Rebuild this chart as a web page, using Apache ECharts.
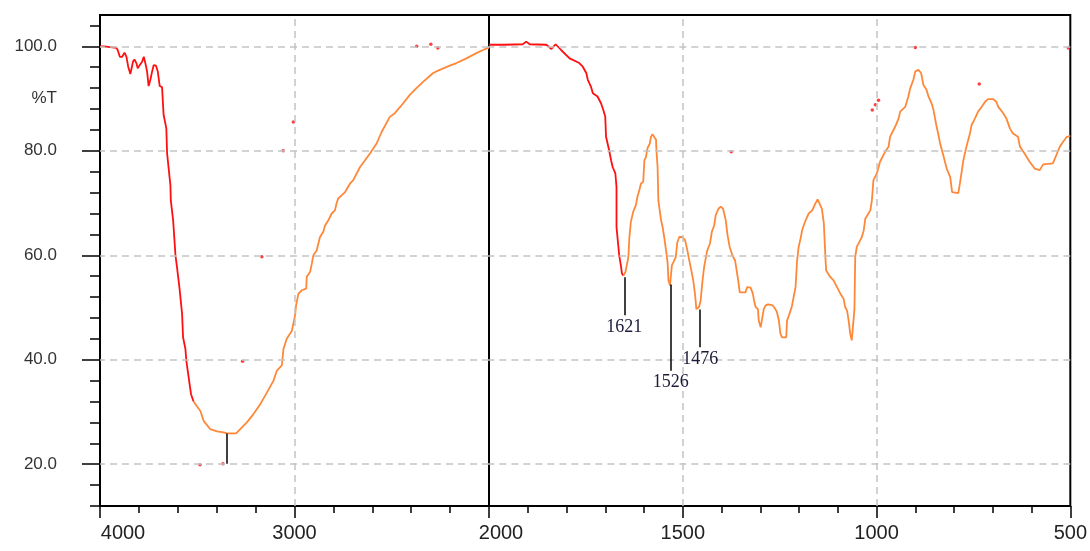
<!DOCTYPE html>
<html>
<head>
<meta charset="utf-8">
<script src="https://cdn.jsdelivr.net/npm/echarts@6/dist/echarts.min.js"></script>
<style>
  html, body { margin: 0; padding: 0; background: #fff; }
  #chart { width: 1090px; height: 551px; }
</style>
</head>
<body>
<div id="chart"></div>
<script>
// IR spectrum, [wavenumber cm-1, %T]; the axis is expanded 2x below 2000
const highRed = [[4000,100.0],[3980,100.0],[3915,99.7],[3909,99.3],[3898,98.0],[3886,98.0],[3874,98.8],[3864,98.0],[3855,96.1],[3844,94.7],[3835,94.5],[3830,97.1],[3823,97.5],[3813,96.8],[3806,95.8],[3796,96.4],[3783,97.1],[3775,98.0],[3767,96.8],[3758,95.2],[3750,92.4],[3741,93.6],[3732,95.2],[3724,96.4],[3712,96.3],[3703,95.2],[3693,92.4],[3681,92.2],[3673,86.9],[3659,84.3],[3655,79.5],[3638,73.4],[3636,70.5],[3624,66.7],[3612,60.0],[3604,57.7],[3591,53.6],[3578,48.8],[3573,44.3],[3561,42.1],[3556,39.8],[3544,36.6],[3532,33.4],[3519,32.0]]
const highOrange = [[3519,32.0],[3500,31.0],[3484,30.2],[3467,28.3],[3433,26.7],[3399,26.3],[3365,26.1],[3347,25.9],[3300,25.9],[3279,26.7],[3245,28.0],[3211,29.6],[3176,31.5],[3142,33.7],[3108,36.0],[3091,37.9],[3065,38.9],[3057,42.0],[3040,44.0],[3014,45.5],[3006,46.9],[2997,48.5],[2992,50.4],[2980,52.6],[2963,53.3],[2940,53.6],[2937,55.9],[2920,56.8],[2911,58.4],[2903,60.0],[2886,60.9],[2869,63.5],[2852,64.5],[2843,65.7],[2826,66.7],[2809,68.0],[2792,68.6],[2784,69.9],[2775,70.9],[2757,71.5],[2740,72.1],[2715,73.7],[2698,74.4],[2663,76.9],[2612,79.5],[2578,81.4],[2552,83.6],[2510,86.5],[2484,87.2],[2441,89.1],[2407,90.7],[2373,92.0],[2339,93.2],[2287,94.9],[2253,95.5],[2202,96.3],[2167,96.8],[2116,97.7],[2065,98.7],[2031,99.3],[2006,99.7],[2000,99.6]]
const lowRed = [[2000,100.3],[1960,100.3],[1913,100.4],[1904,100.9],[1895,100.4],[1852,100.3],[1839,99.5],[1828,100.4],[1814,99.3],[1792,97.7],[1767,96.8],[1758,96.1],[1749,94.9],[1745,93.6],[1737,92.3],[1732,91.0],[1720,90.4],[1711,89.1],[1705,87.8],[1700,86.5],[1698,82.7],[1690,80.1],[1685,78.2],[1681,76.9],[1674,75.7],[1671,73.1],[1671,65.4],[1666,65.4],[1664,60.0],[1659,57.7],[1657,56.5],[1653,56.1]]
const lowOrange = [[1653,56.1],[1648,56.8],[1642,59.0],[1640,60.0],[1638,63.2],[1634,66.4],[1630,66.1],[1628,68.3],[1621,69.6],[1617,71.2],[1612,72.5],[1608,73.7],[1602,74.1],[1599,78.2],[1595,78.8],[1591,80.5],[1585,81.4],[1582,82.7],[1578,83.2],[1574,82.7],[1569,82.1],[1568,80.1],[1565,76.9],[1563,70.5],[1556,66.7],[1552,65.4],[1548,63.5],[1542,60.3],[1539,58.4],[1537,55.2],[1533,54.2],[1528,58.1],[1524,58.7],[1518,59.7],[1514,62.5],[1509,63.5],[1501,63.5],[1494,62.9],[1488,60.9],[1484,59.3],[1478,57.1],[1473,55.2],[1468,52.3],[1465,49.7],[1458,50.1],[1454,51.3],[1449,55.2],[1445,57.7],[1441,59.3],[1437,60.9],[1430,62.2],[1425,64.5],[1419,65.7],[1415,67.7],[1408,68.9],[1402,69.3],[1396,68.9],[1389,66.7],[1385,64.1],[1379,61.6],[1372,60.0],[1365,59.0],[1361,57.1],[1357,55.2],[1353,52.9],[1338,52.9],[1334,53.9],[1325,53.8],[1319,52.6],[1316,51.3],[1312,50.1],[1306,49.7],[1304,47.5],[1299,46.2],[1295,45.9],[1291,49.7],[1286,50.4],[1280,50.6],[1268,50.4],[1261,49.7],[1257,49.1],[1252,47.5],[1248,45.0],[1244,44.3],[1233,44.3],[1231,47.5],[1226,48.5],[1222,49.4],[1218,50.4],[1214,52.0],[1209,53.9],[1205,59.0],[1201,61.6],[1196,63.2],[1192,64.8],[1188,65.7],[1183,66.7],[1175,68.0],[1166,68.6],[1158,69.9],[1152,70.7],[1147,69.9],[1141,68.9],[1136,66.1],[1132,59.7],[1130,57.1],[1119,55.8],[1111,55.2],[1102,53.9],[1093,52.6],[1085,51.7],[1081,50.1],[1076,49.4],[1072,47.5],[1068,45.0],[1064,43.7],[1061,46.2],[1057,49.7],[1055,59.7],[1051,61.6],[1042,62.9],[1038,63.5],[1033,64.8],[1029,67.0],[1021,68.0],[1016,68.6],[1012,70.5],[1008,74.4],[999,75.7],[991,77.9],[978,79.8],[969,80.8],[965,82.7],[952,84.6],[943,86.2],[939,87.5],[926,88.4],[918,90.4],[913,92.0],[905,93.6],[900,95.2],[892,95.5],[885,94.9],[879,92.6],[871,91.7],[866,90.4],[858,89.1],[853,87.8],[845,84.6],[841,83.3],[836,81.4],[828,79.2],[819,76.6],[810,75.0],[805,72.1],[802,71.9],[789,71.9],[785,73.7],[781,75.7],[776,78.2],[768,80.8],[759,83.3],[755,84.9],[746,86.2],[738,87.5],[729,88.4],[720,89.4],[712,89.9],[699,89.9],[691,89.4],[686,88.4],[673,87.2],[665,86.2],[656,84.3],[648,83.3],[635,82.7],[630,80.8],[618,79.5],[605,77.9],[592,76.6],[579,76.3],[570,77.4],[545,77.6],[536,79.2],[527,80.8],[519,81.7],[510,82.6],[502,82.8],[500,82.8]]

// stray red points
const strayHigh = [[2372,100.0],[2299,100.4],[2263,99.7],[3006,85.5],[3058,80.0],[3168,59.7],[3267,39.7],[3486,19.9],[3368,20.1]]
const strayLow = [[1375,79.8],[1011,87.8],[1003,88.8],[995,89.7],[900,99.8],[735,92.8],[505,99.7]]

// peak markers: where the stick sits, its ends in %T, and the printed text
const peakWn = [3347, 1651, 1531, 1455]
const peakTop = [25.9, 55.8, 54.4, 49.6]
const peakBottom = [20.1, 48.5, 37.9, 42.4]
const peakText = ['', '1621', '1526', '1476']

const yMajorTicks = [20, 40, 60, 80, 100]
const yMinorTicks = [12, 16, 20, 24, 28, 32, 36, 40, 44, 48, 52, 56, 60, 64, 68, 72, 76, 80, 84, 88, 92, 96, 100, 104]
const yLabelValues = [20, 40, 60, 80, 90, 100]
const hGridValues = [20, 40, 60, 80, 100]
const vGridHigh = [3000]
const vGridLow = [1500, 1000]

const RED = '#ff1010'
const ORANGE = '#ff8838'
const SANS = 'Liberation Sans'
const tickStyle = { color: '#000', width: 1.5 }

const chart = echarts.init(document.getElementById('chart'))

const peakLines = (inHigh) => peakWn
  .map((wn, i) => ({ wn, i }))
  .filter(p => (p.wn >= 2000) === inHigh)
  .map(p => [
    { coord: [p.wn, peakTop[p.i]] },
    { coord: [p.wn, peakBottom[p.i]], label: { show: peakText[p.i] !== '', formatter: peakText[p.i] } },
  ])

const gridLines = (vVals) => ({
  silent: true,
  symbol: ['none', 'none'],
  label: { show: false },
  emphasis: { disabled: true },
  lineStyle: { color: '#c4c4c4', type: [7, 5], width: 1.5 },
  data: [...hGridValues.map(v => ({ yAxis: v })), ...vVals.map(v => ({ xAxis: v }))],
})

const peakMark = (inHigh) => ({
  silent: true,
  symbol: ['none', 'none'],
  emphasis: { disabled: true },
  lineStyle: { color: '#000', type: 'solid', width: 1.5 },
  label: {
    position: 'end',
    distance: 3,
    fontFamily: 'Liberation Serif',
    fontSize: 18,
    color: '#1c1c38',
  },
  data: peakLines(inHigh),
})

const lineSeries = (data, color, xi, yi, extra) => Object.assign({
  type: 'line',
  xAxisIndex: xi,
  yAxisIndex: yi,
  data,
  showSymbol: false,
  silent: true,
  z: 3,
  lineStyle: { color, width: 1.8 },
  itemStyle: { color },
}, extra || {})

chart.setOption({
  animation: false,
  grid: [
    { left: 100, top: 15, width: 389, height: 491, show: true, borderColor: '#000', borderWidth: 2, backgroundColor: 'transparent' },
    { left: 489, top: 15, width: 583, height: 491, show: true, borderColor: '#000', borderWidth: 2, backgroundColor: 'transparent' },
  ],
  xAxis: [
    {
      gridIndex: 0, type: 'value', min: 2000, max: 4000, interval: 1000, inverse: true,
      axisLine: { show: false },
      axisTick: { show: true, length: 12, lineStyle: tickStyle },
      minorTick: { show: true, splitNumber: 5, length: 7, lineStyle: tickStyle },
      splitLine: { show: false },
      axisLabel: {
        showMinLabel: false, margin: 17, fontSize: 20, fontFamily: SANS, color: '#222',
        formatter: v => (v === 4000 ? '{e|4000}' : String(v)),
        rich: { e: { padding: [0, 0, 0, 46], fontSize: 20, fontFamily: SANS, color: '#222' } },
      },
    },
    {
      gridIndex: 1, type: 'value', min: 500, max: 2000, interval: 500, inverse: true,
      axisLine: { show: false },
      axisTick: { show: true, length: 12, lineStyle: tickStyle },
      minorTick: { show: true, splitNumber: 5, length: 7, lineStyle: tickStyle },
      splitLine: { show: false },
      axisLabel: {
        margin: 17, fontSize: 20, fontFamily: SANS, color: '#222',
        formatter: v => (v === 2000 ? '{m|2000}' : String(v)),
        rich: { m: { padding: [0, 0, 0, 24], fontSize: 20, fontFamily: SANS, color: '#222' } },
      },
    },
  ],
  yAxis: [
    {
      gridIndex: 0, type: 'value', position: 'left', offset: 0, min: 12, max: 106,
      axisLine: { show: false },
      axisTick: { show: true, customValues: yMinorTicks, length: 10, lineStyle: tickStyle },
      axisLabel: { show: false },
      splitLine: { show: false },
    },
    {
      gridIndex: 0, type: 'value', position: 'left', offset: 0, min: 12, max: 106,
      axisLine: { show: false },
      axisTick: { show: true, customValues: yMajorTicks, length: 18, lineStyle: tickStyle },
      axisLabel: {
        customValues: yLabelValues, margin: 43, fontSize: 17, fontFamily: SANS, color: '#333',
        formatter: v => (v === 90 ? '%T' : v.toFixed(1)),
      },
      splitLine: { show: false },
    },
    { gridIndex: 1, type: 'value', min: 12, max: 106, show: false },
  ],
  series: [
    { type: 'line', xAxisIndex: 0, yAxisIndex: 0, data: [], silent: true, z: 1, markLine: gridLines(vGridHigh) },
    { type: 'line', xAxisIndex: 1, yAxisIndex: 2, data: [], silent: true, z: 1, markLine: gridLines(vGridLow) },
    lineSeries(highRed, RED, 0, 0),
    lineSeries(highOrange, ORANGE, 0, 0, { markLine: peakMark(true) }),
    lineSeries(lowRed, RED, 1, 2),
    lineSeries(lowOrange, ORANGE, 1, 2, { markLine: peakMark(false) }),
    { type: 'scatter', xAxisIndex: 0, yAxisIndex: 0, data: strayHigh, symbolSize: 3.5, silent: true, itemStyle: { color: RED }, z: 3 },
    { type: 'scatter', xAxisIndex: 1, yAxisIndex: 2, data: strayLow, symbolSize: 3.5, silent: true, itemStyle: { color: RED }, z: 3 },
  ],
})
</script>
</body>
</html>
